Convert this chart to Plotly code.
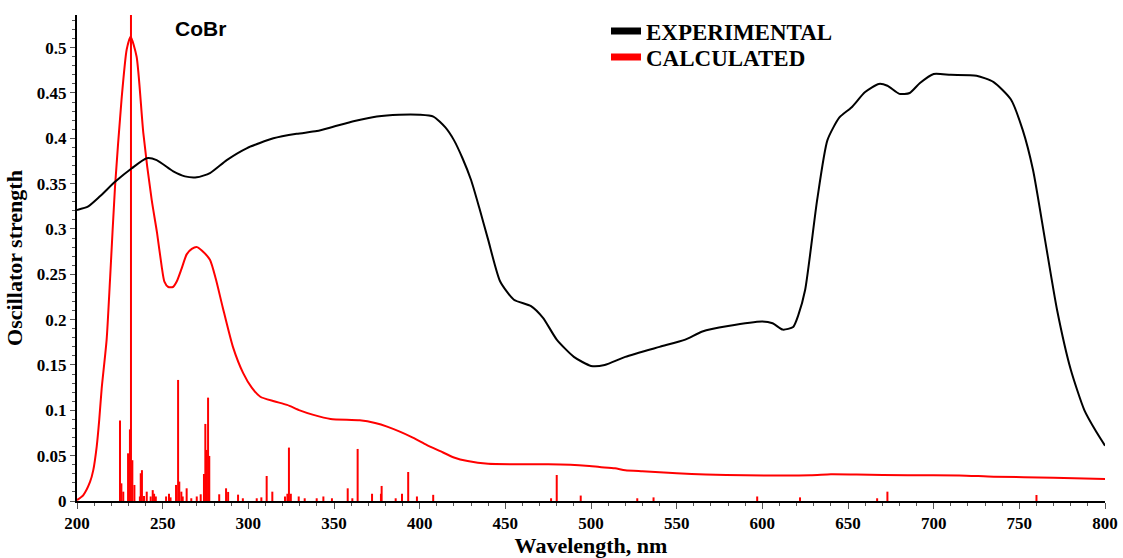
import plotly.graph_objects as go

# Experimental spectrum (black)
exp_x = [200, 206.6, 213.4, 222.2, 232, 240.7, 246.5, 256.2, 263, 269.9, 277.6, 287.4, 299, 314.6,
         328.2, 340, 350, 362, 375, 388, 400, 408, 415, 420, 425, 430, 435, 440, 447, 455, 465, 472,
         480, 490, 500, 508, 520, 540, 555, 565, 580, 600, 606, 612, 618, 621, 625, 632, 638, 645,
         652, 660, 668, 673, 680, 686, 692, 700, 710, 725, 735, 745, 752, 758, 765, 772, 780, 788,
         795, 800]
exp_y = [0.321, 0.325, 0.336, 0.352, 0.367, 0.378, 0.376, 0.3635, 0.358, 0.357, 0.3617, 0.376, 0.389,
         0.400, 0.405, 0.408, 0.413, 0.419, 0.424, 0.426, 0.426, 0.424, 0.412, 0.398, 0.378, 0.354,
         0.322, 0.288, 0.242, 0.222, 0.215, 0.202, 0.178, 0.159, 0.149, 0.150, 0.159, 0.170, 0.178,
         0.187, 0.193, 0.198, 0.196, 0.189, 0.192, 0.205, 0.233, 0.332, 0.398, 0.423, 0.434, 0.451,
         0.460, 0.458, 0.449, 0.450, 0.461, 0.471, 0.470, 0.469, 0.462, 0.443, 0.409, 0.365, 0.288,
         0.211, 0.145, 0.100, 0.076, 0.061]

# Calculated (broadened) spectrum (red)
calc_x = [200, 203.7, 207.6, 209.5, 211.5, 213, 214.4, 217.3, 219.3, 222.2, 226, 229, 231.3, 234.8,
          238.7, 243.6, 246.7, 249.4, 251, 253.3, 256, 258.2, 261, 264, 267, 270, 273, 277.6, 281,
          285, 291, 297, 302, 307, 315, 322.6, 330, 338, 348, 365, 374, 381, 396, 404, 412, 420,
          428, 440, 475, 497, 505, 514, 520, 530, 540, 550, 567, 590, 628, 640, 655, 685, 715, 735,
          770, 800]
calc_y = [0.001, 0.0066, 0.021, 0.034, 0.06, 0.09, 0.124, 0.178, 0.245, 0.347, 0.443, 0.498, 0.512,
          0.49, 0.406, 0.332, 0.296, 0.259, 0.242, 0.236, 0.236, 0.242, 0.256, 0.272, 0.278, 0.280,
          0.276, 0.266, 0.245, 0.214, 0.170, 0.141, 0.125, 0.115, 0.110, 0.106, 0.100, 0.095, 0.0905,
          0.089, 0.086, 0.082, 0.070, 0.062, 0.055, 0.048, 0.044, 0.041, 0.0405, 0.039, 0.0375, 0.036,
          0.034, 0.0328, 0.0317, 0.0306, 0.0293, 0.0284, 0.0284, 0.0295, 0.0292, 0.0284, 0.0282,
          0.0268, 0.0257, 0.0243]

# Calculated transitions (sticks): wavelength (nm) and oscillator strength
stick_x = [225.1, 225.9, 227.0, 229.8, 230.9, 231.5, 232.3, 233.5, 236.7, 237.2, 237.9, 239.1, 240.7,
           243.0, 244.2, 245.0, 246.0, 252.0, 253.7, 254.6, 257.8, 259.0, 259.7, 260.9, 261.7, 264.0,
           266.7, 269.9, 272.2, 274.1, 274.9, 275.7, 276.5, 277.2, 283.0, 287.0, 288.2, 294.0, 296.8,
           304.9, 307.6, 310.7, 314.0, 321.4, 322.8, 323.7, 324.8, 329.4, 332.9, 339.9, 343.8, 348.8,
           358.0, 360.7, 363.8, 372.2, 377.4, 377.8, 386.0, 389.7, 393.3, 398.4, 407.9, 476.7, 480.0,
           494.0, 527.0, 536.5, 597.0, 622.0, 667.0, 673.0, 760.0]
stick_y = [0.0887, 0.0195, 0.0103, 0.0526, 0.079, 0.60, 0.045, 0.0177, 0.005, 0.0306, 0.034, 0.0055,
           0.0103, 0.005, 0.012, 0.008, 0.005, 0.005, 0.008, 0.004, 0.0177, 0.1335, 0.0214, 0.0103,
           0.005, 0.014, 0.003, 0.005, 0.0074, 0.0298, 0.085, 0.0563, 0.114, 0.0497, 0.0074, 0.014,
           0.010, 0.007, 0.003, 0.003, 0.004, 0.0276, 0.0103, 0.005, 0.008, 0.0589, 0.008, 0.005,
           0.003, 0.003, 0.005, 0.003, 0.014, 0.003, 0.0574, 0.008, 0.008, 0.0166, 0.003, 0.008,
           0.032, 0.005, 0.0068, 0.003, 0.0287, 0.006, 0.003, 0.004, 0.005, 0.004, 0.003, 0.0103,
           0.0066]

x_ticks = [200, 250, 300, 350, 400, 450, 500, 550, 600, 650, 700, 750, 800]
y_ticks = [0, 0.05, 0.1, 0.15, 0.2, 0.25, 0.3, 0.35, 0.4, 0.45, 0.5]
y_ticklabels = ["0", "0.05", "0.1", "0.15", "0.2", "0.25", "0.3", "0.35", "0.4", "0.45", "0.5"]

series_names = ["EXPERIMENTAL", "CALCULATED"]
series_colors = ["black", "red"]

# build stick segments
sx, sy = [], []
for x, y in zip(stick_x, stick_y):
    sx += [x, x, None]
    sy += [0, y, None]

fig = go.Figure()
fig.add_trace(go.Scatter(x=sx, y=sy, mode="lines", line=dict(color="red", width=2),
                         showlegend=False, hoverinfo="skip"))
fig.add_trace(go.Scatter(x=calc_x, y=calc_y, mode="lines",
                         line=dict(color="red", width=2, shape="spline", smoothing=0.6),
                         showlegend=False))
fig.add_trace(go.Scatter(x=exp_x, y=exp_y, mode="lines",
                         line=dict(color="black", width=2, shape="spline", smoothing=0.6),
                         showlegend=False))
for name, col, lg in zip(series_names, series_colors, ["legend", "legend2"]):
    fig.add_trace(go.Scatter(x=[None], y=[None], mode="lines", name=name, legend=lg,
                             line=dict(color=col, width=7)))

W, H = 1123, 558
L, R, T, B = 77, 18, 15, 57
PW, PH = W - L - R, H - T - B
serif = "Liberation Serif"
legend_font = dict(family=serif, size=23, color="black", weight="bold")
fig.update_layout(
    width=W, height=H,
    margin=dict(l=L, r=R, t=T, b=B, autoexpand=False),
    paper_bgcolor="white", plot_bgcolor="white",
    showlegend=True,
    legend=dict(x=(606 - L) / PW, y=(H - B - 31) / PH, xanchor="left",
                yanchor="middle", font=legend_font, bgcolor="rgba(0,0,0,0)", itemwidth=30),
    legend2=dict(x=(606 - L) / PW, y=(H - B - 57) / PH, xanchor="left",
                 yanchor="middle", font=legend_font, bgcolor="rgba(0,0,0,0)", itemwidth=30),
    xaxis=dict(range=[200, 800], tickvals=x_ticks, ticks="outside", ticklen=6, tickwidth=1,
               tickcolor="#555", showline=True, linecolor="black", linewidth=2,
               showgrid=False, zeroline=False, automargin=False,
               minor=dict(dtick=10, ticks="outside", ticklen=3, tickcolor="#555", showgrid=False),
               tickfont=dict(family=serif, size=17, color="black", weight="bold"),
               title=dict(text="Wavelength, nm", standoff=6,
                          font=dict(family=serif, size=22, color="black", weight="bold"))),
    yaxis=dict(range=[0, 0.536], tickvals=y_ticks, ticktext=y_ticklabels, ticks="outside",
               ticklen=5, tickwidth=1, tickcolor="#555", showline=True, linecolor="black",
               linewidth=2, showgrid=False, zeroline=False, automargin=False,
               minor=dict(dtick=0.01, ticks="outside", ticklen=3, tickcolor="#555", showgrid=False),
               tickfont=dict(family=serif, size=17, color="black", weight="bold"),
               title=dict(text="Oscillator strength", standoff=8,
                          font=dict(family=serif, size=22, color="black", weight="bold"))),
    annotations=[dict(text="CoBr", x=0.12, y=1.0, xref="paper", yref="paper",
                      xanchor="center", yanchor="top", showarrow=False,
                      font=dict(family="Liberation Sans", size=21, color="black", weight="bold"))],
)

fig.write_html("out.html")
